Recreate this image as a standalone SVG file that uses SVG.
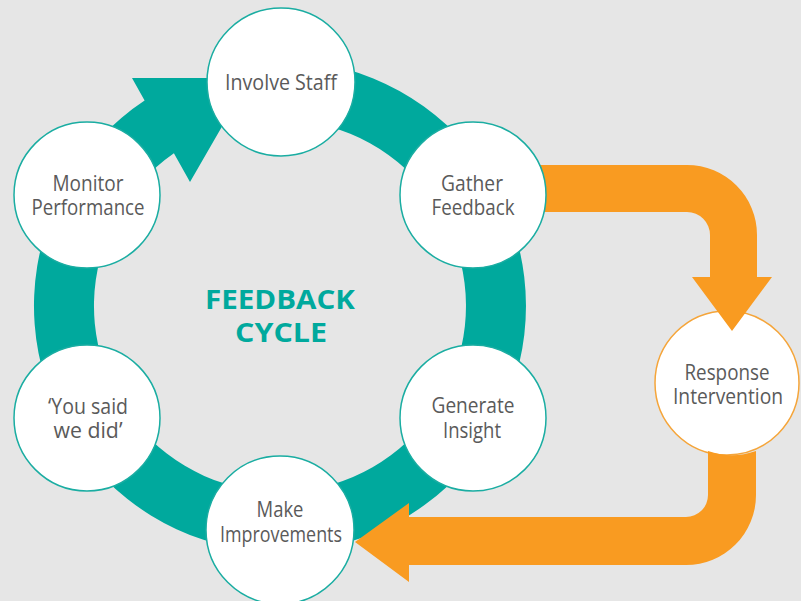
<svg xmlns="http://www.w3.org/2000/svg" width="801" height="601" viewBox="0 0 801 601">
  <style>
    .node circle { fill: #ffffff; stroke: #1aada2; stroke-width: 1.5; }
    #n-response circle { stroke: #f5a53a; }
    .lbl { font-family: "Open Sans", "Noto Sans", "Liberation Sans", sans-serif; font-size: 22px; fill: #5a5a5a; text-anchor: middle; }
    .title { font-family: "Open Sans", "Noto Sans", "Liberation Sans", sans-serif; font-size: 26px; font-weight: bold; fill: #00a99d; text-anchor: middle; }
    .teal { fill: #00a99d; }
    .orange { fill: #f99b21; }
  </style>
  <rect x="0" y="0" width="801" height="601" fill="#e6e6e6"/>

  <g id="n-response" class="node">
    <circle cx="727" cy="383" r="72"/>
    <text class="lbl" x="727" y="380" textLength="85" lengthAdjust="spacingAndGlyphs">Response</text>
    <text class="lbl" x="728" y="404" textLength="110" lengthAdjust="spacingAndGlyphs">Intervention</text>
  </g>

  <g id="connectors">
    <path id="cycle-ring" class="teal" d="M 288.6 60.15 A 246 246 0 1 1 144.6 100.6 L 132 78 L 250 78 L 190 182 L 173.9 153.2 A 186 186 0 1 0 286.5 120.1 Z"/>
    <path id="to-response" class="orange" d="M 480 165 H 687 A 70 70 0 0 1 757 235 V 277 H 772 L 732 331 L 692 277 H 710 V 235 A 23 23 0 0 0 687 212 H 480 Z"/>
    <path id="to-improvements" class="orange" d="M 708 450.9 A 72 72 0 0 0 756 450.9 V 495 A 70 70 0 0 1 686 565 H 409 V 582 L 355 542 L 409 503 V 517 H 686 A 22 22 0 0 0 708 495 Z"/>
  </g>

  <g id="n-involve" class="node">
    <circle cx="281" cy="82" r="74"/>
    <text class="lbl" x="281" y="90" textLength="112" lengthAdjust="spacingAndGlyphs">Involve Staff</text>
  </g>
  <g id="n-gather" class="node">
    <circle cx="473" cy="195" r="73"/>
    <text class="lbl" x="472" y="191" textLength="62" lengthAdjust="spacingAndGlyphs">Gather</text>
    <text class="lbl" x="473" y="215" textLength="83" lengthAdjust="spacingAndGlyphs">Feedback</text>
  </g>
  <g id="n-generate" class="node">
    <circle cx="473" cy="418" r="73"/>
    <text class="lbl" x="473" y="413" textLength="83" lengthAdjust="spacingAndGlyphs">Generate</text>
    <text class="lbl" x="472" y="438" textLength="58" lengthAdjust="spacingAndGlyphs">Insight</text>
  </g>
  <g id="n-improve" class="node">
    <circle cx="280" cy="530" r="74"/>
    <text class="lbl" x="280" y="517" textLength="47" lengthAdjust="spacingAndGlyphs">Make</text>
    <text class="lbl" x="281" y="542" textLength="122" lengthAdjust="spacingAndGlyphs">Improvements</text>
  </g>
  <g id="n-yousaid" class="node">
    <circle cx="87" cy="418" r="73"/>
    <text class="lbl" x="88" y="414" textLength="80" lengthAdjust="spacingAndGlyphs">‘You said</text>
    <text class="lbl" x="88" y="438" textLength="69" lengthAdjust="spacingAndGlyphs">we did’</text>
  </g>
  <g id="n-monitor" class="node">
    <circle cx="87" cy="195" r="73"/>
    <text class="lbl" x="88" y="191" textLength="71" lengthAdjust="spacingAndGlyphs">Monitor</text>
    <text class="lbl" x="88" y="215" textLength="113" lengthAdjust="spacingAndGlyphs">Performance</text>
  </g>

  <g id="title">
    <text class="title" x="280" y="309" textLength="150" lengthAdjust="spacingAndGlyphs">FEEDBACK</text>
    <text class="title" x="281" y="342" textLength="92" lengthAdjust="spacingAndGlyphs">CYCLE</text>
  </g>
</svg>
